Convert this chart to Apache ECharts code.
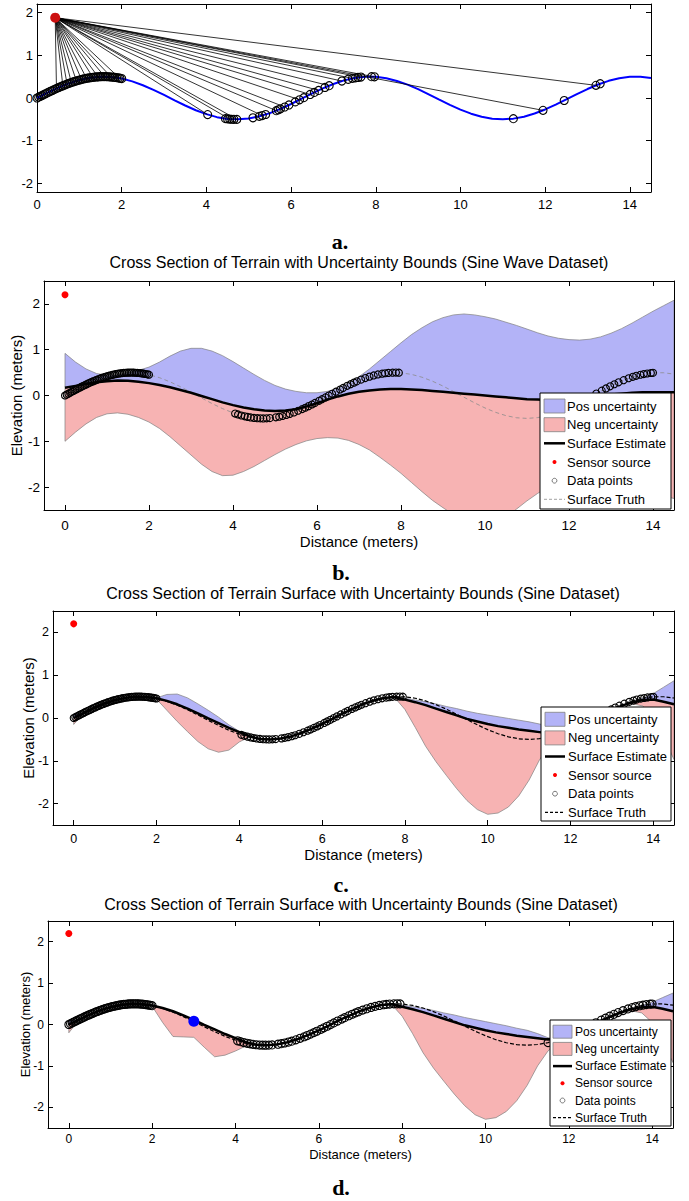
<!DOCTYPE html>
<html><head><meta charset="utf-8">
<script src="https://cdn.jsdelivr.net/npm/echarts@6/dist/echarts.min.js"></script>
<style>html,body{margin:0;padding:0;background:#fff}#c{width:689px;height:1201px}</style>
</head><body><div id="c"></div><script>
// ---------- DATA ----------
const gridX = [0,0.25,0.5,0.75,1,1.25,1.5,1.75,2,2.25,2.5,2.75,3,3.25,3.5,3.75,4,4.25,4.5,4.75,5,5.25,5.5,5.75,6,6.25,6.5,6.75,7,7.25,7.5,7.75,8,8.25,8.5,8.75,9,9.25,9.5,9.75,10,10.25,10.5,10.75,11,11.25,11.5,11.75,12,12.25,12.5,12.75,13,13.25,13.5,13.75,14,14.25,14.5];
const truthY = [0,0.124,0.240,0.341,0.421,0.474,0.499,0.492,0.455,0.389,0.299,0.191,0.071,-0.054,-0.175,-0.286,-0.378,-0.448,-0.489,-0.500,-0.479,-0.429,-0.353,-0.254,-0.140,-0.017,0.108,0.225,0.328,0.412,0.469,0.497,0.495,0.461,0.399,0.312,0.206,0.087,-0.038,-0.160,-0.272,-0.367,-0.440,-0.486,-0.500,-0.483,-0.438,-0.363,-0.268,-0.156,-0.033,0.091,0.210,0.316,0.402,0.464,0.495,0.497,0.467];

// data points near the sensor (shared by all panels)
const nearX = [0,0.04,0.08,0.12,0.16,0.2,0.24,0.28,0.32,0.36,0.4,0.44,0.48,0.52,0.56,0.6,0.64,0.68,0.72,0.76,0.8,0.84,0.88,0.92,0.96,1.0,1.04,1.08,1.12,1.16,1.2,1.24,1.28,1.32,1.36,1.4,1.44,1.48,1.52,1.56,1.6,1.64,1.68,1.72,1.76,1.8,1.84,1.88,1.92,1.96,2.0];
const nearY = [0,0.020,0.040,0.060,0.080,0.099,0.119,0.138,0.157,0.176,0.195,0.213,0.231,0.248,0.266,0.282,0.299,0.314,0.330,0.344,0.359,0.372,0.385,0.398,0.410,0.421,0.431,0.441,0.450,0.458,0.466,0.473,0.479,0.484,0.489,0.493,0.496,0.498,0.499,0.500,0.500,0.499,0.497,0.494,0.491,0.487,0.482,0.476,0.470,0.463,0.455];

// panel a
const sensorA = [0.43, 1.88];
const aFarX = [4.03,4.45,4.5,4.55,4.6,4.65,4.72,5.1,5.25,5.32,5.4,5.65,5.7,5.75,5.85,5.95,6.1,6.2,6.3,6.45,6.55,6.65,6.8,6.9,7.2,7.35,7.45,7.52,7.58,7.65,7.9,7.97,11.25,11.95,12.45,13.2,13.3];
const aFarY = [-0.388,-0.483,-0.489,-0.493,-0.497,-0.499,-0.500,-0.463,-0.429,-0.411,-0.386,-0.296,-0.275,-0.254,-0.210,-0.163,-0.091,-0.042,0.008,0.083,0.131,0.178,0.247,0.289,0.397,0.438,0.460,0.472,0.481,0.490,0.499,0.496,-0.484,-0.289,-0.058,0.296,0.335];
const rayX = [0.46,0.61,0.71,0.81,0.93,1.05,1.17,1.32,1.44,1.6,1.75,1.95,4.03,4.55,4.72,5.32,5.65,5.85,6.2,6.45,6.65,6.9,7.2,7.45,7.65,7.97,11.95,13.2];
const rayY = [0.222,0.286,0.326,0.362,0.401,0.434,0.460,0.484,0.496,0.500,0.492,0.464,-0.388,-0.493,-0.500,-0.411,-0.296,-0.210,-0.042,0.083,0.178,0.289,0.397,0.460,0.490,0.496,-0.289,0.296];

// data points (panels b, c, d)
const ptsX = [4.05,4.12,4.2,4.28,4.35,4.42,4.5,4.58,4.65,4.72,4.8,4.88,
  5.02,5.1,5.18,5.27,5.35,5.45,5.55,5.65,5.72,5.8,5.88,5.95,6.05,6.12,6.2,6.28,6.36,6.45,6.55,6.62,
  6.72,6.8,6.88,6.95,7.05,7.15,7.25,7.35,7.45,7.55,7.62,7.7,7.8,7.88,7.95, 11.5,
  12.65,12.78,12.88,12.98,13.08,13.18,13.3,13.42,13.52,13.6,13.7,13.78,13.86,13.95,14.0];
const ptsY = [-0.394,-0.414,-0.436,-0.454,-0.467,-0.479,-0.489,-0.496,-0.499,-0.500,-0.498,-0.493,
  -0.476,-0.463,-0.447,-0.424,-0.403,-0.370,-0.333,-0.296,-0.267,-0.232,-0.196,-0.163,-0.116,-0.081,-0.042,-0.002,0.038,0.083,0.131,0.165,
  0.212,0.247,0.281,0.309,0.347,0.381,0.412,0.438,0.460,0.477,0.486,0.494,0.499,0.500,0.498, -0.438,
  0.042,0.106,0.154,0.201,0.246,0.288,0.335,0.377,0.408,0.430,0.453,0.468,0.481,0.491,0.495];

// panel b (Sine Wave Dataset)
const sensorB = [0, 2.2];
const bUpper = [0.92,0.73,0.58,0.48,0.44,0.45,0.5,0.55,0.62,0.73,0.86,0.97,1.03,1.03,0.97,0.87,0.74,0.6,0.46,0.33,0.22,0.14,0.09,0.06,0.06,0.09,0.16,0.27,0.41,0.58,0.77,0.96,1.15,1.33,1.48,1.61,1.7,1.76,1.78,1.76,1.72,1.67,1.6,1.53,1.45,1.37,1.3,1.25,1.22,1.21,1.23,1.28,1.36,1.46,1.58,1.71,1.84,1.96,2.08];
const bLower = [-1.0,-0.8,-0.62,-0.48,-0.4,-0.38,-0.41,-0.48,-0.58,-0.72,-0.9,-1.1,-1.3,-1.5,-1.66,-1.75,-1.74,-1.66,-1.55,-1.42,-1.29,-1.17,-1.07,-0.99,-0.94,-0.92,-0.93,-0.98,-1.07,-1.19,-1.35,-1.52,-1.7,-1.9,-2.1,-2.29,-2.45,-2.6,-2.72,-2.8,-2.82,-2.76,-2.65,-2.48,-2.3,-2.14,-2.0,-1.9,-1.84,-1.8,-1.8,-1.82,-1.86,-1.92,-1.98,-2.05,-2.12,-2.19,-2.25];
const bEst = [0.17,0.21,0.25,0.29,0.31,0.33,0.32,0.3,0.27,0.23,0.18,0.12,0.06,-0.01,-0.08,-0.15,-0.21,-0.26,-0.3,-0.33,-0.34,-0.33,-0.3,-0.24,-0.17,-0.09,-0.02,0.04,0.08,0.11,0.13,0.14,0.14,0.13,0.12,0.1,0.08,0.06,0.04,0.02,0.0,-0.02,-0.04,-0.06,-0.08,-0.09,-0.1,-0.1,-0.09,-0.07,-0.04,-0.01,0.02,0.04,0.06,0.07,0.07,0.07,0.07];

// panel c
const cEst = [0.0,0.12,0.24,0.34,0.42,0.47,0.5,0.49,0.46,0.4,0.32,0.22,0.11,-0.01,-0.12,-0.23,-0.33,-0.43,-0.49,-0.5,-0.48,-0.43,-0.35,-0.25,-0.14,-0.02,0.11,0.22,0.33,0.41,0.47,0.49,0.43,0.37,0.3,0.22,0.14,0.06,-0.02,-0.08,-0.14,-0.19,-0.23,-0.27,-0.3,-0.33,-0.36,-0.35,-0.29,-0.18,-0.05,0.08,0.19,0.29,0.37,0.42,0.43,0.38,0.32];
const cUpper = [0.1,0.12,0.24,0.34,0.42,0.47,0.5,0.49,0.47,0.55,0.56,0.47,0.33,0.18,0.02,-0.16,-0.31,-0.42,-0.49,-0.5,-0.48,-0.43,-0.35,-0.25,-0.14,-0.02,0.11,0.22,0.33,0.41,0.47,0.5,0.46,0.42,0.38,0.33,0.27,0.22,0.16,0.11,0.07,0.03,-0.01,-0.05,-0.09,-0.14,-0.2,-0.3,-0.29,-0.18,-0.05,0.08,0.19,0.29,0.4,0.47,0.57,0.72,0.87];
const cLower = [-0.15,0.12,0.24,0.34,0.42,0.47,0.5,0.49,0.44,0.18,-0.08,-0.32,-0.55,-0.72,-0.8,-0.75,-0.56,-0.44,-0.49,-0.5,-0.48,-0.43,-0.35,-0.25,-0.14,-0.02,0.11,0.22,0.33,0.41,0.47,0.48,0.2,-0.22,-0.66,-1.02,-1.34,-1.65,-1.93,-2.14,-2.25,-2.22,-2.08,-1.82,-1.45,-0.98,-0.62,-0.42,-0.29,-0.18,-0.05,0.08,0.19,0.29,0.33,0.28,0.05,-0.45,-0.97];

// panel d
const dEst = cEst;
const dUpper = [0.1,0.12,0.24,0.34,0.42,0.47,0.5,0.49,0.46,0.4,0.32,0.22,0.11,-0.01,-0.12,-0.23,-0.33,-0.43,-0.49,-0.5,-0.48,-0.43,-0.35,-0.25,-0.14,-0.02,0.11,0.22,0.33,0.41,0.47,0.5,0.47,0.43,0.39,0.34,0.28,0.23,0.17,0.12,0.07,0.02,-0.03,-0.09,-0.14,-0.22,-0.32,-0.35,-0.29,-0.18,-0.05,0.08,0.19,0.29,0.4,0.46,0.54,0.65,0.76];
const dLower = [-0.2,0.12,0.24,0.34,0.42,0.47,0.5,0.49,0.44,0.05,-0.29,-0.3,-0.31,-0.55,-0.78,-0.74,-0.64,-0.52,-0.49,-0.5,-0.48,-0.43,-0.35,-0.25,-0.14,-0.02,0.11,0.22,0.33,0.41,0.47,0.48,0.2,-0.22,-0.68,-1.05,-1.37,-1.68,-1.96,-2.18,-2.29,-2.25,-2.1,-1.84,-1.47,-1.0,-0.64,-0.42,-0.29,-0.18,-0.05,0.08,0.19,0.29,0.33,0.28,0.05,-0.42,-0.92];
const blueDot = [3.0, 0.08];

const xTicks = [0,2,4,6,8,10,12,14];
const yTicks = [-2,-1,0,1,2];
const legendNames = ['Pos uncertainty','Neg uncertainty','Surface Estimate','Sensor source','Data points','Surface Truth'];
const titleB = 'Cross Section of Terrain with Uncertainty Bounds (Sine Wave Dataset)';
const titleCD = 'Cross Section of Terrain Surface with Uncertainty Bounds (Sine Dataset)';

// ---------- STYLE / LAYOUT ----------
const FF = '"Liberation Sans", Arial, Helvetica, sans-serif';
const POS = '#b3b3f7', NEG = '#f7b3b3', EDGE = '#808080';
const zip = (xs, ys) => xs.map((x, i) => [x, ys[i]]);

const panels = [
  {box:{left:37, top:4, width:614, height:188}, xr:[0,14.5], yr:[-2.2,2.2], fs:13, lm:6},
  {box:{left:44, top:281, width:630, height:229}, xr:[-0.5,14.5], yr:[-2.5,2.5], fs:13.5, lm:8, nf:15, xg:24, yg:20},
  {box:{left:53, top:611, width:621, height:214}, xr:[-0.5,14.5], yr:[-2.5,2.5], fs:12.5, lm:7, nf:15, xg:22, yg:17.5},
  {box:{left:48, top:921, width:625, height:207}, xr:[-0.5,14.5], yr:[-2.5,2.5], fs:12, lm:5, nf:13, xg:20, yg:16}
];

const grid = [], xAxis = [], yAxis = [];
panels.forEach((p, i) => {
  grid.push(Object.assign({outerBoundsMode:'none', containLabel:false}, p.box));
  const lineS = {show:true, onZero:false, lineStyle:{color:'#000', width:1}};
  xAxis.push({type:'value', gridIndex:i, position:'bottom', min:p.xr[0], max:p.xr[1],
    axisLine:lineS, splitLine:{show:false},
    axisTick:{show:true, inside:true, length:5, customValues:xTicks, lineStyle:{color:'#000'}},
    axisLabel:{show:true, customValues:xTicks, margin:p.lm, color:'#000', fontSize:p.fs, fontFamily:FF},
    name: i ? 'Distance (meters)' : '', nameLocation:'middle', nameGap:p.xg || 0, nameMoveOverlap:false,
    nameTextStyle:{color:'#000', fontSize:p.nf || 12, fontFamily:FF}});
  xAxis.push({type:'value', gridIndex:i, position:'top', min:p.xr[0], max:p.xr[1],
    axisLine:lineS, splitLine:{show:false},
    axisTick:{show:true, inside:true, length:5, customValues:xTicks, lineStyle:{color:'#000'}},
    axisLabel:{show:false}});
  yAxis.push({type:'value', gridIndex:i, position:'left', min:p.yr[0], max:p.yr[1],
    axisLine:lineS, splitLine:{show:false},
    axisTick:{show:true, inside:true, length:5, customValues:yTicks, lineStyle:{color:'#000'}},
    axisLabel:{show:true, customValues:yTicks, margin:4, color:'#000', fontSize:p.fs, fontFamily:FF},
    name: i ? 'Elevation (meters)' : '', nameLocation:'middle', nameGap:p.yg || 0, nameMoveOverlap:false,
    nameTextStyle:{color:'#000', fontSize:p.nf || 12, fontFamily:FF}});
  yAxis.push({type:'value', gridIndex:i, position:'right', min:p.yr[0], max:p.yr[1],
    axisLine:lineS, splitLine:{show:false},
    axisTick:{show:true, inside:true, length:5, customValues:yTicks, lineStyle:{color:'#000'}},
    axisLabel:{show:false}});
});

function ax(i) { return {xAxisIndex:2*i, yAxisIndex:2*i}; }

function band(i, name, topX, topY, botX, botY, fill) {
  return Object.assign({type:'custom', name, clip:true, z:1, silent:true,
    data:[[topX[0], topY[0]]],
    renderItem: (params, api) => {
      const pts = [];
      for (let k = 0; k < topX.length; k++) pts.push(api.coord([topX[k], topY[k]]));
      for (let k = botX.length - 1; k >= 0; k--) pts.push(api.coord([botX[k], botY[k]]));
      const cs = params.coordSys;
      return {type:'polygon', shape:{points:pts},
        clipPath:{type:'rect', shape:{x:cs.x, y:cs.y, width:cs.width, height:cs.height}},
        style:{fill, stroke:EDGE, lineWidth:0.7}};
    }}, ax(i));
}
function line(i, name, xs, ys, color, width, dash, z) {
  return Object.assign({type:'line', name, data:zip(xs, ys), symbol:'none', z, silent:true,
    lineStyle:{color, width, type: dash || 'solid'}}, ax(i));
}
function pts(i, xs, ys, size, z) {
  return Object.assign({type:'scatter', name:'Data points', data:zip(xs, ys), symbol:'circle', symbolSize:size, z, silent:true,
    itemStyle:{color:'rgba(0,0,0,0)', borderColor:'#000', borderWidth:1.1, opacity:1}}, ax(i));
}
function dot(i, name, p, color, size, z) {
  return Object.assign({type:'scatter', name, data:[p], symbol:'circle', symbolSize:size, z, silent:true,
    itemStyle:{color, opacity:1}}, ax(i));
}

const series = [];
// panel a
series.push(line(0, 'truth a', gridX, truthY, '#0000ff', 2, null, 2));
series.push(Object.assign({type:'lines', coordinateSystem:'cartesian2d', z:3, silent:true,
  data: rayX.map((x, k) => ({coords:[sensorA, [x, rayY[k]]]})),
  lineStyle:{color:'#000', width:0.8, opacity:1}}, ax(0)));
series.push(pts(0, nearX.concat(aFarX), nearY.concat(aFarY), 8, 4));
series.push(dot(0, 'sensor a', sensorA, '#cc1010', 10, 5));
// panel b
series.push(band(1, 'Pos uncertainty', gridX, bUpper, gridX, bEst, POS));
series.push(band(1, 'Neg uncertainty', gridX, bEst, gridX, bLower, NEG));
series.push(line(1, 'Surface Truth', gridX, truthY, '#8c8c8c', 0.8, [4,3], 2));
series.push(line(1, 'Surface Estimate', gridX, bEst, '#000', 2.5, null, 3));
series.push(pts(1, nearX.concat(ptsX), nearY.concat(ptsY), 7, 4));
series.push(dot(1, 'Sensor source', sensorB, '#ff0000', 7, 5));
// panel c
series.push(band(2, 'Pos uncertainty', gridX, cUpper, gridX, cEst, POS));
series.push(band(2, 'Neg uncertainty', gridX, cEst, gridX, cLower, NEG));
series.push(line(2, 'Surface Truth', gridX, truthY, '#000', 1.2, [4,2], 2));
series.push(line(2, 'Surface Estimate', gridX, cEst, '#000', 2.5, null, 3));
series.push(pts(2, nearX.concat(ptsX), nearY.concat(ptsY), 7, 4));
series.push(dot(2, 'Sensor source', sensorB, '#ff0000', 7, 5));
// panel d
series.push(band(3, 'Pos uncertainty', gridX, dUpper, gridX, dEst, POS));
series.push(band(3, 'Neg uncertainty', gridX, dEst, gridX, dLower, NEG));
series.push(line(3, 'Surface Truth', gridX, truthY, '#000', 1.2, [4,2], 2));
series.push(line(3, 'Surface Estimate', gridX, dEst, '#000', 2.5, null, 3));
series.push(pts(3, nearX.concat(ptsX), nearY.concat(ptsY), 8, 4));
series.push(dot(3, 'Sensor source', sensorB, '#ff0000', 7, 5));
series.push(dot(3, 'Current point', blueDot, '#0000ff', 11, 6));

// ---------- legends, titles, labels (graphic) ----------
function legendEls(L) {
  const e = [];
  const mid = (L.ix0 + L.ix1) / 2;
  e.push({type:'rect', z:100, shape:{x:L.x, y:L.y, width:L.w, height:L.h}, style:{fill:'#fff', stroke:'#000', lineWidth:1}});
  e.push({type:'rect', z:101, shape:{x:L.ix0, y:L.rows[0]-L.ph/2, width:L.ix1-L.ix0, height:L.ph}, style:{fill:POS, stroke:EDGE, lineWidth:0.8}});
  e.push({type:'rect', z:101, shape:{x:L.ix0, y:L.rows[1]-L.ph/2, width:L.ix1-L.ix0, height:L.ph}, style:{fill:NEG, stroke:EDGE, lineWidth:0.8}});
  e.push({type:'line', z:101, shape:{x1:L.ix0, y1:L.rows[2], x2:L.ix1, y2:L.rows[2]}, style:{stroke:'#000', lineWidth:2.5}});
  e.push({type:'circle', z:101, shape:{cx:mid, cy:L.rows[3], r:2}, style:{fill:'#ff0000'}});
  e.push({type:'circle', z:101, shape:{cx:mid, cy:L.rows[4], r:2.4}, style:{fill:'none', stroke:'#555', lineWidth:0.8}});
  e.push({type:'line', z:101, shape:{x1:L.ix0, y1:L.rows[5], x2:L.ix1, y2:L.rows[5]}, style:{stroke:L.tc, lineWidth:L.tw, lineDash:[3,2]}});
  legendNames.forEach((n, k) => e.push({type:'text', z:102, x:L.tx, y:L.rows[k],
    style:{text:n, font:L.font, fill:'#000', align:'left', verticalAlign:'middle', textAlign:'left', textVerticalAlign:'middle'}}));
  return e;
}
function txt(s, x, y, font) {
  return {type:'text', z:102, x, y, style:{text:s, font, fill:'#000', align:'center', verticalAlign:'middle', textAlign:'center', textVerticalAlign:'middle'}};
}
const LBL = 'bold 22px "Liberation Serif", "Times New Roman", serif';
const graphic = [].concat(
  legendEls({x:540, y:393, w:131, h:116, rows:[406,424.7,443.3,462,480.7,499.3], ix0:544, ix1:565, tx:567, ph:14, font:'13px '+FF, tc:'#8c8c8c', tw:0.8}),
  legendEls({x:541, y:707, w:130, h:114, rows:[719.3,737.9,756.5,775.1,793.7,812.3], ix0:545, ix1:565, tx:568, ph:14, font:'13px '+FF, tc:'#000', tw:1.2}),
  legendEls({x:550, y:1020, w:121, h:106, rows:[1031.7,1048.9,1066.1,1083.3,1100.5,1117.7], ix0:553, ix1:572, tx:575, ph:13, font:'12px '+FF, tc:'#000', tw:1.2}),
  [txt(titleB, 359, 262, '16px '+FF), txt(titleCD, 363, 593, '16px '+FF), txt(titleCD, 361, 904, '16px '+FF),
   txt('a.', 340, 241, LBL), txt('b.', 341, 572, LBL), txt('c.', 341, 884, LBL), txt('d.', 341, 1187, LBL)]
);

const chart = echarts.init(document.getElementById('c'), null, {renderer:'svg', width:689, height:1201});
chart.setOption({animation:false, backgroundColor:'#fff', grid, xAxis, yAxis, series, graphic});
</script></body></html>
